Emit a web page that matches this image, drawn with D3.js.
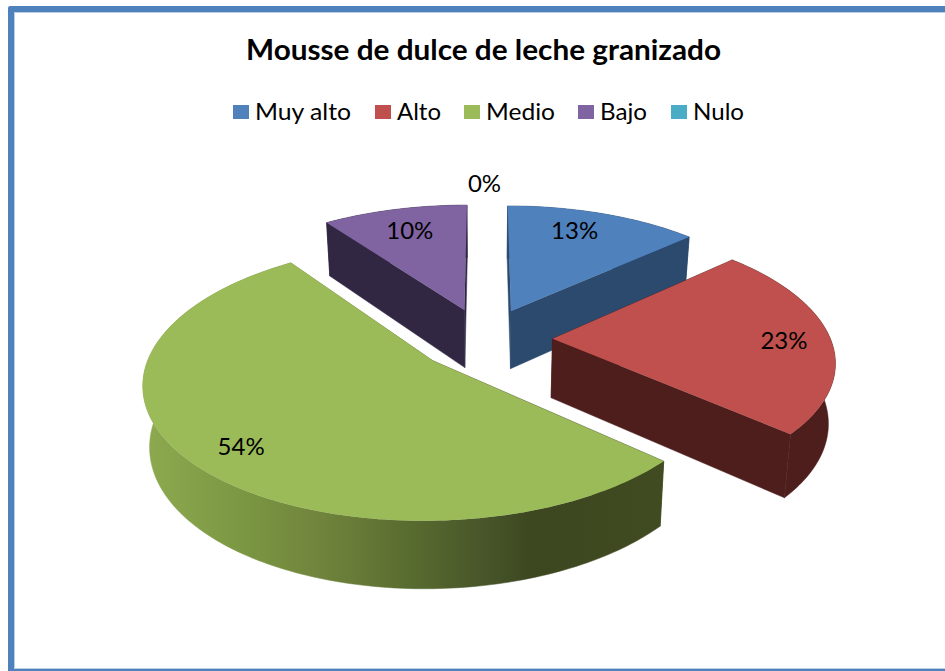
<!DOCTYPE html>
<html><head><meta charset="utf-8">
<script src="https://cdn.jsdelivr.net/npm/d3@7/dist/d3.min.js"></script>
<style>html,body{margin:0;padding:0;background:#fff}svg{display:block}text{font-family:Lato,"Open Sans",sans-serif;fill:#000}</style>
</head><body><svg id="c" width="945" height="671"></svg>
<script>
const title = "Mousse de dulce de leche granizado";
const categories = ["Muy alto","Alto","Medio","Bajo","Nulo"];
const values = [13.2,23.4,53.5,9.9,0];
const labels = ["13%","23%","54%","10%","0%"];
const topColors = ["#4F81BD","#C0504D","#9BBB59","#8064A2","#4BACC6"];
const sideColors = ["#2C4A6E","#4E1E1C","url(#greenSide)","#312743","#2A6170"];
const labelRadius = [0.78,0.83,0.832,0.76,1.22];
const labelAngleShare = [0.43,0.52,0.4875,0.5,0.5];
const drawOrder = [4,0,3,1,2];

const W=945,H=671, cx=484.5, cy=339, R=278, explode=68, K=0.4634, b=0.000543, depth=59, shrink=0.98;
const svg=d3.select("#c");

// frame
svg.append("rect").attr("width",W).attr("height",H).attr("fill","#fff");
svg.append("path").attr("d","M8,671 L8,8 Q8,6 10,6 L945,6 L945,12 L14,12 L14,669 L945,669 L945,671 Z").attr("fill","#4F81BD");
svg.append("path").attr("d","M14,12.5 H945 M14.5,12 V668.5 H945").attr("fill","none").attr("stroke","#B9CDE5").attr("stroke-width",1);

// title and legend
svg.append("text").attr("x",246).attr("y",60).attr("font-size",29).attr("font-weight",700)
  .attr("textLength",475).attr("lengthAdjust","spacingAndGlyphs").text(title);
const legendX=d3.scaleOrdinal().domain(categories).range([233,375,464,578,671]);
const legendW=[96,44,69,47,51];
const lg=svg.append("g").selectAll("g").data(categories).join("g").attr("transform",d=>`translate(${legendX(d)},0)`);
lg.append("rect").attr("y",105).attr("width",16).attr("height",14).attr("fill",(d,i)=>topColors[i]);
lg.append("text").attr("x",22).attr("y",120).attr("font-size",24).attr("textLength",(d,i)=>legendW[i]).attr("lengthAdjust","spacingAndGlyphs").attr("fill","#111").text(d=>d);

// gradient along the green rim
const grad=svg.append("defs").append("linearGradient").attr("id","greenSide").attr("gradientUnits","userSpaceOnUse").attr("x1",143).attr("x2",661).attr("y1",0).attr("y2",0);
[[0,"#8EAA50"],[0.2,"#7A9642"],[0.35,"#70833C"],[0.52,"#586B2F"],[0.66,"#48552A"],[0.75,"#3C4720"],[1,"#404B21"]]
  .forEach(s=>grad.append("stop").attr("offset",s[0]).attr("stop-color",s[1]));

const pie=d3.pie().sort(null).value(d=>d);
const arcs=pie(values);

function world(a,r,mid){ return [explode*Math.sin(mid)+r*Math.sin(a), -explode*Math.cos(mid)-r*Math.cos(a)]; }
function project(wx,wy,bottom){
  const g=1/(1-b*wy), s=bottom?shrink:1;
  return [cx+wx*g*s, cy+K*wy*g*s+(bottom?depth*g:0)];
}
const line=d3.line();
function ring(d,bottom){
  const mid=(d.startAngle+d.endAngle)/2;
  const n=Math.max(2,Math.ceil((d.endAngle-d.startAngle)/0.02));
  return d3.range(n+1).map(i=>{
    const a=d.startAngle+(d.endAngle-d.startAngle)*i/n;
    const w=world(a,R,mid); return project(w[0],w[1],bottom);
  });
}
function apex(d,bottom){ const mid=(d.startAngle+d.endAngle)/2, w=world(0,0,mid); return project(w[0],w[1],bottom); }

const pg=svg.append("g");
drawOrder.forEach(i=>{
  const d=arcs[i];
  if(d.value===0) return;
  const t=ring(d,false), u=ring(d,true), a0=apex(d,false), a1=apex(d,true);
  const side=sideColors[i];
  pg.append("path").attr("d",line([...t,...u.slice().reverse()])+"Z").attr("fill",side).attr("stroke",side).attr("stroke-width",.5);
  pg.append("path").attr("d",line([a0,t[0],u[0],a1])+"Z").attr("fill",side).attr("stroke",side).attr("stroke-width",.5);
  pg.append("path").attr("d",line([a0,t[t.length-1],u[u.length-1],a1])+"Z").attr("fill",side).attr("stroke",side).attr("stroke-width",.5);
  pg.append("path").attr("d",line([a0,...t])+"Z").attr("fill",topColors[i]);
});

// data labels
svg.append("g").selectAll("text").data(arcs).join("text")
  .attr("text-anchor","middle").attr("font-size",24).attr("fill","#111")
  .attr("transform",(d,i)=>{
    const mid=(d.startAngle+d.endAngle)/2, a=d.startAngle+(d.endAngle-d.startAngle)*labelAngleShare[i];
    const w=world(a,R*labelRadius[i],mid), p=project(w[0],w[1],false);
    return `translate(${p[0]},${p[1]+8})`;
  }).text((d,i)=>labels[i]);
</script></body></html>
